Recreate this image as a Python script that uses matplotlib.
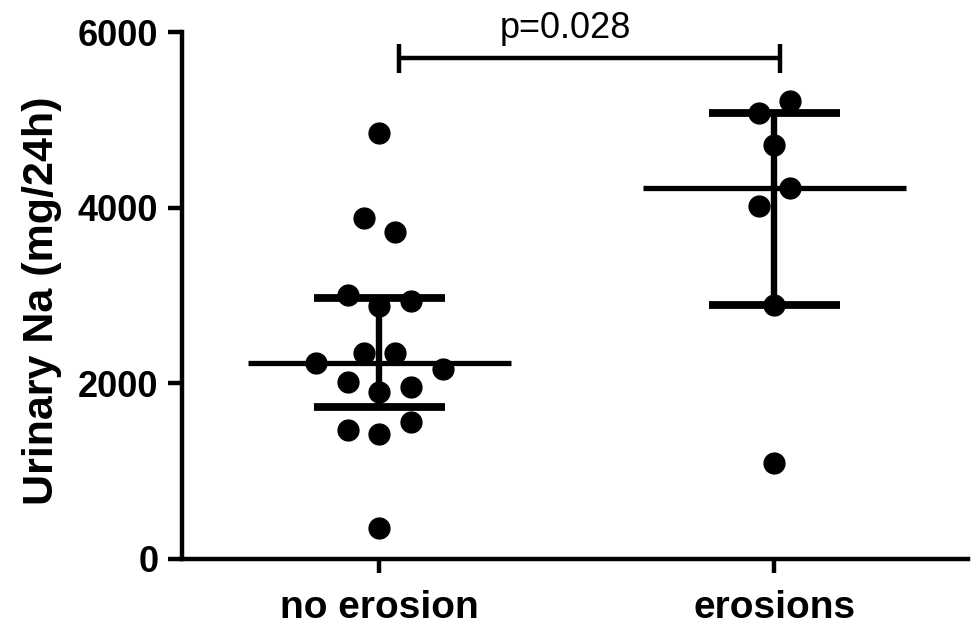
import numpy as np
from matplotlib import pyplot as plt

# Urinary sodium (mg/24h)
groups = ["no erosion", "erosions"]
no_erosion = [4850, 3880, 3720, 2880, 3010, 2940, 2350, 2340, 1900,
              2010, 1960, 2230, 2160, 1420, 1470, 1560, 350]
erosions = [5080, 5220, 4710, 4020, 4220, 2890, 1090]
p_text = "p=0.028"
yticks = [0, 2000, 4000, 6000]

FONT = "Liberation Sans"
DOT = 15  # marker size in pt
SLOT = 0.08  # horizontal spacing between dots, in x units
ROW_TOL = 350  # values closer than this share a row


def dot_offsets(values):
    # GraphPad-like layout: group close values into rows, spread each row
    # symmetrically about the category centre
    values = np.asarray(values, dtype=float)
    order = np.argsort(values, kind="stable")
    rows, cur = [], [order[0]]
    for i in order[1:]:
        if values[i] - values[cur[0]] < ROW_TOL:
            cur.append(i)
        else:
            rows.append(cur)
            cur = [i]
    rows.append(cur)

    off = np.zeros(len(values))
    for row in rows:
        row = sorted(row)
        n = len(row)
        if n % 2:
            slots = [0]
            for k in range(1, n // 2 + 1):
                slots += [-k, k]
        else:
            slots = []
            for k in range(n // 2):
                slots += [-(k + 0.5), k + 0.5]
        for i, s in zip(row, slots):
            off[i] = s * SLOT
    return off


fig = plt.figure(figsize=(9.71, 6.26), dpi=100)
ax = fig.add_axes([182 / 971, 1 - 559 / 626, (968 - 182) / 971, (559 - 32) / 626])

for pos, vals in enumerate([no_erosion, erosions]):
    x = pos + dot_offsets(vals)
    ax.plot(x, vals, "o", ms=DOT, color="black", mec="black", zorder=3,
            clip_on=False)

    q1, med, q3 = np.percentile(vals, [25, 50, 75], method="weibull")
    ax.hlines(med, pos - 0.333, pos + 0.333, color="black", lw=3.8, zorder=4)
    ax.hlines([q1, q3], pos - 0.166, pos + 0.166, color="black", lw=5.6,
              zorder=4)
    ax.vlines(pos, q1, q3, color="black", lw=4.6, zorder=4)

# significance bracket
yb, hb = 5700, 165
ax.hlines(yb, 0.05, 1.013, color="black", lw=3.2, clip_on=False)
ax.vlines([0.05, 1.013], yb - hb, yb + hb, color="black", lw=3.2,
          clip_on=False)
ax.text(0.47, 6040, p_text, ha="center", va="center", fontsize=26,
        family=FONT, clip_on=False)

ax.set_xlim(-0.5, 1.49)
ax.set_ylim(0, 6000)
ax.set_xticks([0, 1])
ax.set_xticklabels(groups)
ax.set_yticks(yticks)
ax.set_yticklabels([str(t) for t in yticks])

for lab in ax.get_xticklabels():
    lab.set_fontsize(28)
    lab.set_fontweight("bold")
    lab.set_family(FONT)
for lab in ax.get_yticklabels():
    lab.set_fontsize(26)
    lab.set_fontweight("bold")
    lab.set_family(FONT)

ax.set_ylabel("Urinary Na (mg/24h)", fontsize=31, fontweight="bold",
              family=FONT)
ax.yaxis.set_label_coords((62 - 182) / 786, 0.49)

for side in ["top", "right"]:
    ax.spines[side].set_visible(False)
for side in ["left", "bottom"]:
    ax.spines[side].set_linewidth(3.2)
ax.tick_params(axis="both", direction="out", length=10, width=3.2,
               color="black")
ax.tick_params(axis="y", pad=7)
ax.tick_params(axis="x", pad=12)

fig.savefig("out.png", dpi=100)
